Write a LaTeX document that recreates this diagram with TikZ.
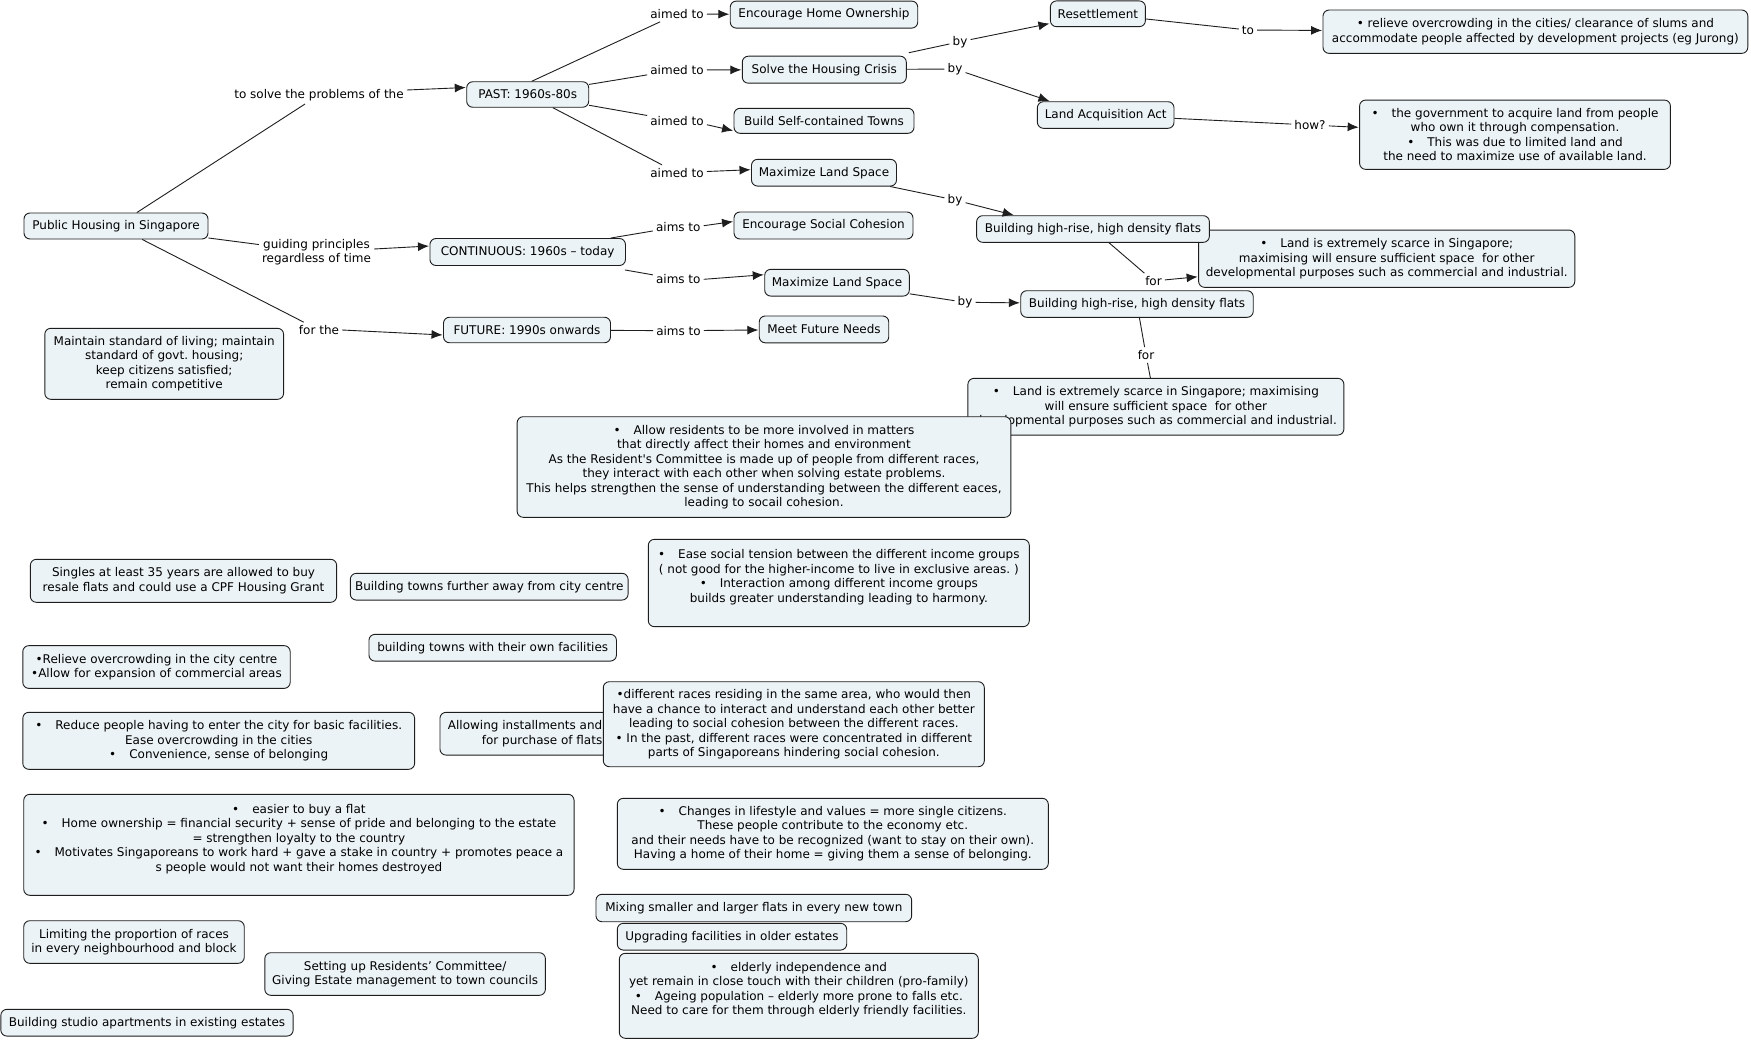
\documentclass[tikz,border=0pt]{standalone}
\usepackage{fontspec}
\newfontfamily\dvs{DejaVu Sans}
\usetikzlibrary{arrows.meta}
\definecolor{boxfill}{RGB}{236,243,246}
\definecolor{edge}{RGB}{30,30,30}
\newcommand{\mybul}{•\hspace{13pt}}
\tikzset{
  fs/.style={font=\dvs\fontsize{12pt}{14.5pt}\selectfont\frenchspacing},
  box/.style={fs, draw=edge, fill=boxfill, rounded corners=6pt, line width=0.9pt, align=center, inner xsep=4pt, inner ysep=0pt, text=black},
  lbl/.style={fs, inner sep=3pt, align=center, text=black},
  con/.style={draw=edge, line width=0.9pt},
  arr/.style={con, -{Latex[length=11pt,width=9pt]}, shorten >=0.5pt},
}
\begin{document}
\begin{tikzpicture}[x=1pt,y=-1pt]
\path[fill=white,use as bounding box] (0,0) rectangle (1751,1041);

% ---- main nodes
\node[box, minimum width=184pt, minimum height=26pt] (ph) at (116,226) {Public Housing in Singapore};
\node[box, minimum width=122pt, minimum height=25.5pt] (past) at (527.7,94.5) {PAST: 1960s-80s};
\node[box, minimum width=195.5pt, minimum height=27pt] (cont) at (527.7,252) {CONTINUOUS: 1960s – today};
\node[box, minimum width=167pt, minimum height=25.5pt] (fut) at (527,330) {FUTURE: 1990s onwards};
\node[box, minimum width=187.5pt, minimum height=27pt] (eho) at (824,14.6) {Encourage Home Ownership};
\node[box, minimum width=164pt, minimum height=27pt] (shc) at (824.3,69.7) {Solve the Housing Crisis};
\node[box, minimum width=180pt, minimum height=25pt] (bsct) at (824,120.8) {Build Self-contained Towns};
\node[box, minimum width=145pt, minimum height=26.7pt] (mls1) at (824,172.7) {Maximize Land Space};
\node[box, minimum width=179pt, minimum height=27pt] (esc) at (823.5,225.5) {Encourage Social Cohesion};
\node[box, minimum width=144.6pt, minimum height=26.7pt] (mls2) at (837,282.7) {Maximize Land Space};
\node[box, minimum width=129.5pt, minimum height=26.8pt] (mfn) at (824,329.4) {Meet Future Needs};
\node[box, minimum width=95pt, minimum height=25.7pt] (res) at (1097.9,13.8) {Resettlement};
\node[box, minimum width=136.6pt, minimum height=26.6pt] (laa) at (1105.7,115) {Land Acquisition Act};
\node[box, minimum width=424.8pt, minimum height=43.3pt] (rel) at (1535.4,31.7) {• relieve overcrowding in the cities/ clearance of slums and\\accommodate people affected by development projects (eg Jurong)};
\node[box, minimum width=310.8pt, minimum height=69.3pt] (gov) at (1515,134.7) {\mybul the government to acquire land from people\\who own it through compensation.\\\mybul This was due to limited land and\\the need to maximize use of available land.};
\node[box, minimum width=376.2pt, minimum height=57.3pt] (ls1) at (1386.7,258.7) {\mybul Land is extremely scarce in Singapore;\\maximising will ensure sufficient space~ for other\\developmental purposes such as commercial and industrial.};
\node[box, minimum width=232.7pt, minimum height=26.6pt] (bhr1) at (1093,229) {Building high-rise, high density flats};
\node[box, minimum width=232.5pt, minimum height=26.6pt] (bhr2) at (1137,304) {Building high-rise, high density flats};
\node[box, minimum width=376pt, minimum height=56.7pt] (ls2) at (1155.9,406.7) {\mybul Land is extremely scarce in Singapore; maximising\\will ensure sufficient space~ for other\\developmental purposes such as commercial and industrial.};
\node[box, minimum width=493.7pt, minimum height=100.6pt] (ar) at (764,467) {\mybul Allow residents to be more involved in matters\\that directly affect their homes and environment\\As the Resident's Committee is made up of people from different races,\\they interact with each other when solving estate problems.\\This helps strengthen the sense of understanding between the different eaces,\\leading to socail cohesion.};
\node[box, minimum width=238.8pt, minimum height=71pt] (mnt) at (164.2,363.8) {Maintain standard of living; maintain\\standard of govt. housing;\\keep citizens satisfied;\\remain competitive};

% ---- lower free-standing nodes
\node[box, minimum width=306.3pt, minimum height=43pt] (sgl) at (183.5,580.8) {Singles at least 35 years are allowed to buy\\resale flats and could use a CPF Housing Grant};
\node[box, minimum width=277.8pt, minimum height=26.7pt] (btfa) at (489.2,586.7) {Building towns further away from city centre};
\node[box, minimum width=381pt, minimum height=87.3pt] (ease) at (838.8,583) {\mybul Ease social tension between the different income groups\\( not good for the higher-income to live in exclusive areas. )\\\mybul Interaction among different income groups\\builds greater understanding leading to harmony.\\\mbox{}};
\node[box, minimum width=247.5pt, minimum height=26.7pt] (btwof) at (492.7,647.7) {building towns with their own facilities};
\node[box, minimum width=267.4pt, minimum height=42.7pt] (rocc) at (156.5,667) {•Relieve overcrowding in the city centre\\•Allow for expansion of commercial areas};
\node[box, minimum width=391.8pt, minimum height=57pt] (rdp) at (218.7,740.8) {\mybul Reduce people having to enter the city for basic facilities.\\Ease overcrowding in the cities\\\mybul Convenience, sense of belonging};
\node[box, anchor=west, align=right, inner xsep=8pt, minimum height=42.7pt] (inst) at (439.5,733.7) {Allowing installments and\\for purchase of flats};
\node[box, minimum width=381pt, minimum height=85pt] (races) at (793.8,724.2) {•different races residing in the same area, who would then\\have a chance to interact and understand each other better\\leading to social cohesion between the different races.\\• In the past, different races were concentrated in different\\parts of Singaporeans hindering social cohesion.};
\node[box, minimum width=550.3pt, minimum height=101pt] (easy) at (298.9,844.8) {\mybul easier to buy a flat\\\mybul Home ownership = financial security + sense of pride and belonging to the estate\\= strengthen loyalty to the country\\\mybul Motivates Singaporeans to work hard + gave a stake in country + promotes peace a\\s people would not want their homes destroyed\\\mbox{}};
\node[box, minimum width=431pt, minimum height=71pt] (chg) at (832.8,833.8) {\mybul Changes in lifestyle and values = more single citizens.\\These people contribute to the economy etc.\\and their needs have to be recognized (want to stay on their own).\\Having a home of their home = giving them a sense of belonging.};
\node[box, minimum width=315.7pt, minimum height=27.4pt] (mix) at (753.8,908) {Mixing smaller and larger flats in every new town};
\node[box, minimum width=229.4pt, minimum height=26.7pt] (upg) at (732,936.7) {Upgrading facilities in older estates};
\node[box, minimum width=359pt, minimum height=85pt] (eld) at (798.8,995.8) {\mybul elderly independence and\\yet remain in close touch with their children (pro-family)\\\mybul Ageing population – elderly more prone to falls etc.\\Need to care for them through elderly friendly facilities.\\\mbox{}};
\node[box, minimum width=220.5pt, minimum height=42.6pt] (lim) at (134,942) {Limiting the proportion of races\\in every neighbourhood and block};
\node[box, minimum width=280.6pt, minimum height=42.6pt] (rc) at (405.1,974) {Setting up Residents’ Committee/\\Giving Estate management to town councils};
\node[box, minimum width=292.3pt, minimum height=26.7pt] (stu) at (147,1022.7) {Building studio apartments in existing estates};

% ---- linking phrases
\node[lbl] (l1) at (319,95) {to solve the problems of the};
\node[lbl] (l2) at (316.5,252) {guiding principles\\regardless of time};
\node[lbl] (l3) at (319,330) {for the};
\node[lbl] (a1) at (677,14) {aimed to};
\node[lbl] (a2) at (677,70) {aimed to};
\node[lbl] (a3) at (677,120.7) {aimed to};
\node[lbl] (a4) at (677,172.7) {aimed to};
\node[lbl] (s1) at (678.3,226.7) {aims to};
\node[lbl] (s2) at (678.3,279.3) {aims to};
\node[lbl] (s3) at (678.5,330.7) {aims to};
\node[lbl] (b1) at (960,41.7) {by};
\node[lbl] (b2) at (955,69) {by};
\node[lbl] (t1) at (1248,30) {to};
\node[lbl] (h1) at (1310,125) {how?};
\node[lbl] (b3) at (955,200) {by};
\node[lbl] (f1) at (1153.5,281) {for};
\node[lbl] (b4) at (965,302.3) {by};
\node[lbl] (f2) at (1146,355) {for};

% ---- connectors
\draw[con] (ph) -- (l1);
\draw[arr] ([yshift=5pt]l1.east) -- ([yshift=7pt]past.west);
\draw[con] (ph) -- (l2);
\draw[arr] ([yshift=3pt]l2.east) -- ([yshift=6pt]cont.west);
\draw[con] (ph) -- (l3);
\draw[arr] (l3.east) -- ([yshift=-5pt]fut.west);
\draw[con] ([xshift=4pt]past.north) -- (a1);
\draw[arr] (a1) -- (eho);
\draw[con] (past) -- (a2);
\draw[arr] (a2) -- (shc);
\draw[con] (past) -- (a3);
\draw[arr] ([yshift=-4pt]a3.east) -- ([yshift=-10pt]bsct.west);
\draw[con] (past) -- (a4);
\draw[arr] (a4) -- ([yshift=3pt]mls1.west);
\draw[con] (cont) -- (s1);
\draw[arr] ([yshift=1pt]s1.east) -- ([yshift=4pt]esc.west);
\draw[con] ([xshift=-1pt,yshift=-4pt]cont.south east) -- (s2);
\draw[arr] (s2.east) -- ([yshift=8pt]mls2.west);
\draw[con] (fut) -- (s3);
\draw[arr] (s3) -- (mfn);
\draw[con] ([xshift=2pt,yshift=3pt]shc.north east) -- (b1);
\draw[arr] (b1) -- (res);
\draw[con] (shc) -- (b2);
\draw[arr] (b2) -- ([xshift=13pt]laa.north west);
\draw[con] (res) -- (t1);
\draw[arr] (t1) -- (rel);
\draw[con] (laa) -- (h1);
\draw[arr] (h1) -- (gov);
\draw[con] (mls1) -- (b3);
\draw[arr] (b3) -- ([xshift=38pt]bhr1.north west);
\draw[con] (bhr1) -- (f1);
\draw[arr] (f1) -- (ls1);
\draw[con] (mls2) -- (b4);
\draw[arr] (b4) -- (bhr2);
\draw[con] (bhr2) -- (f2) -- (ls2);
\end{tikzpicture}
\end{document}
